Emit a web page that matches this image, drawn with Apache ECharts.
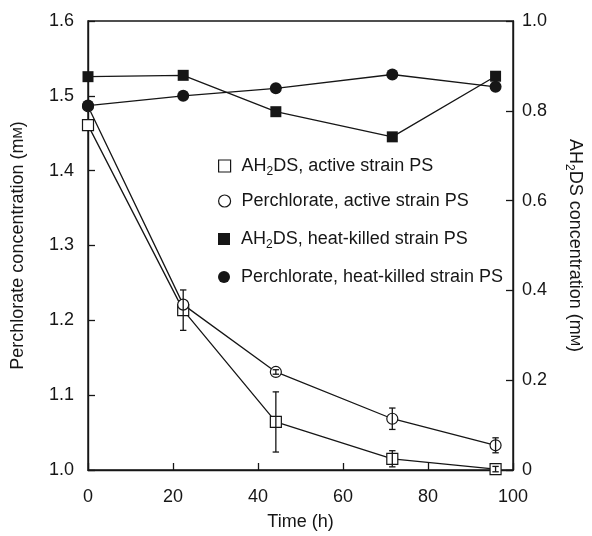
<!DOCTYPE html>
<html>
<head>
<meta charset="utf-8">
<script src="https://cdn.jsdelivr.net/npm/echarts@6/dist/echarts.min.js"></script>
<style>
  html, body { margin: 0; padding: 0; background: #fff; }
  #chart { width: 592px; height: 536px; }
</style>
</head>
<body>
<div id="chart"></div>
<script>
var ink = '#161616';
var font = 'Liberation Sans, Arial, Helvetica, sans-serif';

// sampling times (h)
var times = [0, 22.4, 44.2, 71.6, 95.9];

// AH2DS (right axis, mM)
var ah2dsActive = [0.768, 0.356, 0.107, 0.025, 0.002];
var ah2dsActiveErr = [0, 0.045, 0.067, 0.018, 0.006];
var ah2dsKilled = [0.876, 0.879, 0.798, 0.742, 0.877];

// perchlorate (left axis, mM)
var perchActive = [1.486, 1.221, 1.131, 1.0685, 1.033];
var perchActiveErr = [0, 0, 0.003, 0.0143, 0.01];
var perchKilled = [1.487, 1.500, 1.510, 1.5285, 1.512];

var names = [
  'AH2DS, active strain PS',
  'Perchlorate, active strain PS',
  'AH2DS, heat-killed strain PS',
  'Perchlorate, heat-killed strain PS'
];
var legendIcons = ['rect', 'circle', 'rect', 'circle'];
var legendTops = [152, 187, 225, 263];

function pairs(vals) {
  return times.map(function (t, i) { return [t, vals[i]]; });
}
function errPairs(vals, errs) {
  return times.map(function (t, i) { return [t, vals[i] - errs[i], vals[i] + errs[i]]; });
}

// vertical error bar with small caps
function errorBar(params, api) {
  var x = api.value(0);
  var top = api.coord([x, api.value(2)]);
  var bot = api.coord([x, api.value(1)]);
  if (Math.abs(bot[1] - top[1]) < 0.5) return null;
  var w = 3.2;
  var st = { stroke: ink, lineWidth: 1.3 };
  return {
    type: 'group',
    children: [
      { type: 'line', shape: { x1: top[0], y1: top[1], x2: bot[0], y2: bot[1] }, style: st },
      { type: 'line', shape: { x1: top[0] - w, y1: top[1], x2: top[0] + w, y2: top[1] }, style: st },
      { type: 'line', shape: { x1: bot[0] - w, y1: bot[1], x2: bot[0] + w, y2: bot[1] }, style: st }
    ]
  };
}

var richText = {
  n: { fontSize: 18, fontFamily: font, color: ink, lineHeight: 24 },
  sub: { fontSize: 12, fontFamily: font, color: ink, lineHeight: 14, verticalAlign: 'bottom' },
  sc: { fontSize: 13.5, fontFamily: font, color: ink, lineHeight: 24 },
  gap: { width: 6, lineHeight: 24 }
};

function legendLabel(name) {
  if (name.indexOf('AH2DS') === 0) {
    return '{gap|}{n|AH}{sub|2}{n|' + name.slice(3) + '}';
  }
  return '{gap|}{n|' + name + '}';
}

var openStyle = { color: '#fff', borderColor: ink, borderWidth: 1.2 };
var fullStyle = { color: ink, borderColor: ink, borderWidth: 0 };
var legendStyles = [openStyle, openStyle, fullStyle, fullStyle];

var legends = names.map(function (name, i) {
  return {
    left: 213,
    top: legendTops[i],
    itemWidth: 12,
    itemHeight: 12,
    selectedMode: false,
    formatter: legendLabel,
    textStyle: { color: ink, fontSize: 18, fontFamily: font, rich: richText },
    data: [{ name: name, icon: legendIcons[i], itemStyle: legendStyles[i] }]
  };
});

var chart = echarts.init(document.getElementById('chart'));
chart.setOption({
  animation: false,
  backgroundColor: '#fff',
  textStyle: { fontFamily: font, color: ink },
  grid: {
    left: 88, right: 71, top: 21, bottom: 62,
    show: true, borderColor: ink, borderWidth: 1.4, backgroundColor: 'transparent'
  },
  legend: legends,
  xAxis: {
    type: 'value',
    min: 0, max: 100, interval: 20,
    name: 'Time (h)',
    nameLocation: 'middle',
    nameGap: 43,
    nameTextStyle: { fontSize: 18, color: ink, fontFamily: font },
    axisLine: { lineStyle: { color: ink, width: 1.4 } },
    axisTick: { inside: true, length: 7, lineStyle: { color: ink, width: 1.3 } },
    axisLabel: { fontSize: 18, color: ink, margin: 18 },
    splitLine: { show: false }
  },
  yAxis: [
    {
      type: 'value',
      position: 'left',
      min: 1.0, max: 1.6, interval: 0.1,
      name: '{n|Perchlorate concentration (m}{sc|M}{n|)}',
      nameLocation: 'middle',
      nameGap: 58,
      nameTextStyle: { rich: richText },
      axisLine: { show: true, lineStyle: { color: ink, width: 1.4 } },
      axisTick: { inside: true, length: 7, lineStyle: { color: ink, width: 1.3 } },
      axisLabel: { fontSize: 18, color: ink, margin: 14, formatter: function (v) { return v.toFixed(1); } },
      splitLine: { show: false }
    },
    {
      type: 'value',
      position: 'right',
      min: 0, max: 1.0, interval: 0.2,
      name: '{n|AH}{sub|2}{n|DS concentration (m}{sc|M}{n|)}',
      nameLocation: 'middle',
      nameRotate: -90,
      nameGap: 50,
      nameTextStyle: { rich: richText },
      axisLine: { show: true, lineStyle: { color: ink, width: 1.4 } },
      axisTick: { inside: true, length: 7, lineStyle: { color: ink, width: 1.3 } },
      axisLabel: { fontSize: 18, color: ink, margin: 9, formatter: function (v) { return v === 0 ? '0' : v.toFixed(1); } },
      splitLine: { show: false }
    }
  ],
  series: [
    {
      name: names[0], type: 'line', yAxisIndex: 1, z: 3,
      symbol: 'rect', symbolSize: 11,
      itemStyle: openStyle,
      lineStyle: { color: ink, width: 1.3 },
      data: pairs(ah2dsActive)
    },
    {
      name: names[1], type: 'line', yAxisIndex: 0, z: 3,
      symbol: 'circle', symbolSize: 11,
      itemStyle: openStyle,
      lineStyle: { color: ink, width: 1.3 },
      data: pairs(perchActive)
    },
    {
      name: names[2], type: 'line', yAxisIndex: 1, z: 5,
      symbol: 'rect', symbolSize: 11,
      itemStyle: fullStyle,
      lineStyle: { color: ink, width: 1.3 },
      data: pairs(ah2dsKilled)
    },
    {
      name: names[3], type: 'line', yAxisIndex: 0, z: 5,
      symbol: 'circle', symbolSize: 12,
      itemStyle: fullStyle,
      lineStyle: { color: ink, width: 1.3 },
      data: pairs(perchKilled)
    },
    {
      type: 'custom', yAxisIndex: 1, z: 4, silent: true,
      renderItem: errorBar,
      encode: { x: 0, y: [1, 2] },
      data: errPairs(ah2dsActive, ah2dsActiveErr)
    },
    {
      type: 'custom', yAxisIndex: 0, z: 4, silent: true,
      renderItem: errorBar,
      encode: { x: 0, y: [1, 2] },
      data: errPairs(perchActive, perchActiveErr)
    }
  ]
});
</script>
</body>
</html>
